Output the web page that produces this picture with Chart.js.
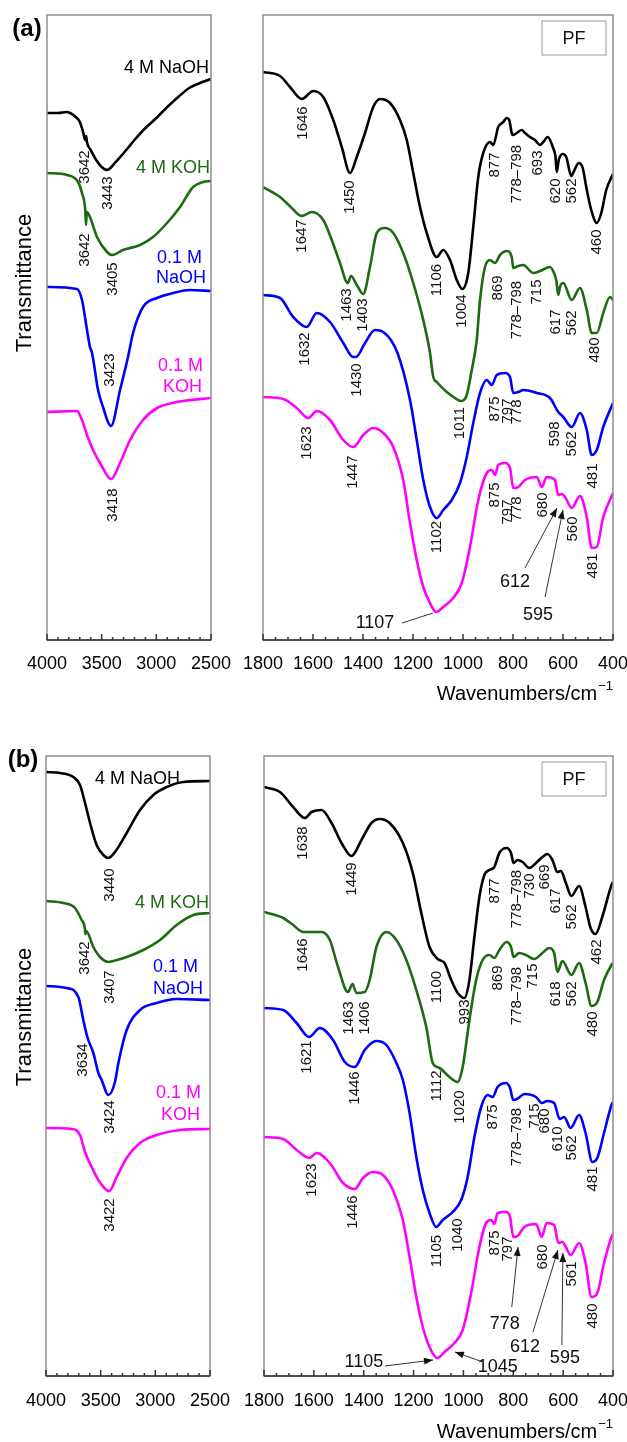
<!DOCTYPE html>
<html>
<head>
<meta charset="utf-8">
<script src="https://cdn.jsdelivr.net/npm/chart.js@4.4.0/dist/chart.umd.min.js"></script>
<style>
html, body { margin: 0; padding: 0; background: #fff; width: 627px; height: 1442px; overflow: hidden; position: relative; }
canvas { position: absolute; }
</style>
</head>
<body>
<canvas id="aLeft" width="250" height="720" style="left:0;top:0"></canvas>
<canvas id="aRight" width="425" height="720" style="left:228px;top:0"></canvas>
<canvas id="bLeft" width="250" height="716" style="left:0;top:740px"></canvas>
<canvas id="bRight" width="425" height="716" style="left:229px;top:740px"></canvas>
<script>
// series names / colours (same order in every plot)
const seriesNames = ['4 M NaOH', '4 M KOH', '0.1 M NaOH', '0.1 M KOH'];
const seriesColors = ['#000000', '#1c6a12', '#0000ff', '#ff00ff'];

// ---- panel (a), 4000-2500 cm-1 : [wavenumber, transmittance (a.u.)]
const aOH_NaOH4 = [[4000,527],[3900,527],[3820,528],[3760,525],[3700,518],[3670,508],[3650,500],[3642,504],[3635,498],[3600,490],[3550,480],[3500,473],[3450,470],[3420,472],[3380,477],[3330,483],[3260,492],[3200,500],[3100,512],[3000,522],[2900,533],[2800,543],[2700,552],[2600,557],[2500,561]];
const aOH_KOH4 = [[4000,467],[3817,465],[3716,458],[3680,447],[3650,430],[3643,415],[3636,428],[3607,423],[3543,403],[3451,388],[3405,385],[3305,390],[3149,395],[3030,403],[2902,417],[2783,433],[2664,453],[2573,458],[2500,459]];
const aOH_NaOH01 = [[4000,353],[3726,351],[3680,340],[3634,310],[3607,293],[3588,287],[3533,250],[3488,233],[3414,214],[3332,250],[3259,283],[3213,307],[3122,333],[2994,342],[2847,347],[2692,350],[2500,349]];
const aOH_KOH01 = [[4000,228],[3726,229],[3680,220],[3634,205],[3579,190],[3515,177],[3414,161],[3332,177],[3240,200],[3122,220],[2994,232],[2811,238],[2500,242]];

// ---- panel (a), 1800-400 cm-1
const aFP_NaOH4 = [[1800,568],[1732,564],[1692,553],[1645,541],[1599,549],[1559,543],[1519,520],[1485,493],[1452,467],[1425,483],[1392,507],[1359,533],[1332,541],[1292,537],[1252,520],[1225,500],[1199,467],[1172,433],[1145,407],[1105,383],[1079,390],[1052,380],[1025,360],[1003,351],[979,367],[959,413],[939,463],[919,487],[892,498],[879,495],[859,513],[839,518],[825,522],[815,520],[805,507],[799,505],[785,507],[765,510],[752,507],[732,503],[712,500],[692,495],[679,498],[661,503],[641,493],[630,483],[625,468],[617,480],[601,486],[587,483],[567,464],[554,470],[537,477],[521,472],[507,453],[487,430],[465,417],[447,427],[427,450],[400,466]];
const aFP_KOH4 = [[1800,453],[1732,443],[1685,432],[1645,424],[1605,428],[1559,420],[1525,400],[1492,377],[1461,357],[1448,364],[1425,355],[1399,346],[1372,373],[1345,407],[1312,412],[1279,407],[1239,387],[1199,357],[1159,320],[1132,287],[1119,263],[1105,258],[1065,248],[1032,242],[1009,239],[985,245],[965,270],[945,300],[932,340],[912,373],[892,380],[872,377],[852,385],[825,389],[805,383],[799,372],[779,374],[759,375],[719,367],[692,369],[652,373],[636,367],[627,360],[619,345],[611,354],[599,357],[565,340],[532,352],[505,330],[485,307],[465,307],[439,327],[412,343],[400,340]];
const aFP_NaOH01 = [[1800,345],[1732,342],[1679,323],[1625,313],[1585,327],[1532,318],[1479,297],[1439,283],[1428,283],[1392,297],[1352,310],[1319,308],[1262,287],[1212,240],[1185,200],[1159,160],[1132,133],[1105,122],[1079,130],[1045,140],[1012,157],[985,183],[959,217],[932,247],[905,260],[885,255],[865,265],[832,267],[812,263],[799,247],[779,248],[759,250],[705,247],[652,242],[619,228],[599,223],[565,213],[532,227],[505,210],[485,185],[465,190],[439,213],[400,237]];
const aFP_KOH01 = [[1800,243],[1719,241],[1665,232],[1619,222],[1585,229],[1532,220],[1479,200],[1439,193],[1399,205],[1359,212],[1319,207],[1279,193],[1239,160],[1212,117],[1185,80],[1159,53],[1132,37],[1108,28],[1079,33],[1039,42],[1005,57],[972,93],[939,140],[905,167],[885,170],[872,165],[859,175],[832,177],[812,172],[799,152],[779,153],[752,160],[705,163],[685,153],[665,163],[632,160],[619,145],[605,146],[592,143],[565,132],[532,144],[505,123],[485,92],[465,93],[439,123],[400,147]];

// ---- panel (b), 4000-2500 cm-1
const bOH_NaOH4 = [[4000,604],[3872,603],[3750,599],[3689,591],[3643,573],[3597,553],[3537,531],[3476,521],[3430,518],[3369,524],[3262,543],[3140,566],[3018,581],[2896,589],[2744,594],[2500,595]];
const bOH_KOH4 = [[4000,475],[3842,473],[3735,468],[3674,456],[3645,448],[3640,442],[3632,445],[3567,429],[3506,419],[3430,414],[3384,415],[3262,419],[3110,426],[2957,436],[2805,451],[2652,461],[2500,463]];
const bOH_NaOH01 = [[4000,390],[3811,388],[3704,379],[3659,356],[3622,339],[3567,323],[3521,303],[3491,296],[3430,281],[3369,294],[3338,313],[3262,346],[3140,366],[2988,373],[2805,377],[2500,376]];
const bOH_KOH01 = [[4000,248],[3765,247],[3689,241],[3643,224],[3582,209],[3521,196],[3421,185],[3354,199],[3262,218],[3140,233],[2988,241],[2774,246],[2500,247]];

// ---- panel (b), 1800-400 cm-1
const bFP_NaOH4 = [[1800,589],[1736,584],[1683,569],[1636,558],[1609,564],[1569,566],[1529,553],[1489,533],[1449,520],[1409,536],[1369,553],[1336,557],[1296,553],[1243,533],[1203,503],[1169,463],[1136,429],[1103,417],[1076,413],[1049,396],[1023,383],[996,378],[976,396],[956,439],[936,479],[916,501],[896,506],[876,509],[856,523],[827,528],[809,523],[799,513],[783,516],[763,514],[736,508],[709,513],[683,519],[663,522],[643,516],[623,504],[609,505],[589,493],[567,480],[536,490],[510,469],[490,448],[470,442],[443,459],[406,491],[400,494]];
const bFP_KOH4 = [[1800,464],[1723,458],[1683,451],[1643,444],[1569,444],[1536,436],[1503,409],[1463,384],[1445,392],[1429,383],[1396,384],[1376,396],[1349,429],[1309,444],[1269,436],[1229,416],[1189,386],[1149,349],[1123,313],[1096,308],[1056,299],[1023,294],[1003,309],[976,356],[949,396],[923,416],[896,421],[876,418],[856,426],[827,434],[809,429],[799,419],[776,423],[749,421],[716,417],[683,423],[656,428],[636,423],[623,404],[603,415],[567,401],[536,413],[510,393],[486,370],[463,374],[436,396],[406,411],[400,413]];
const bFP_NaOH01 = [[1800,368],[1723,366],[1669,353],[1619,339],[1576,348],[1523,336],[1476,314],[1436,309],[1396,326],[1349,335],[1309,331],[1269,313],[1243,296],[1216,263],[1189,219],[1163,186],[1136,163],[1109,149],[1083,156],[1043,164],[1009,176],[983,199],[956,239],[929,269],[903,281],[883,279],[863,289],[829,293],[813,288],[800,276],[779,278],[756,282],[709,279],[686,273],[663,275],[636,273],[614,257],[596,259],[570,248],[536,261],[510,243],[483,214],[463,218],[436,243],[406,271],[400,274]];
const bFP_KOH01 = [[1800,239],[1723,237],[1669,226],[1619,218],[1589,223],[1536,213],[1483,193],[1436,187],[1403,198],[1363,204],[1323,201],[1283,186],[1243,156],[1216,119],[1189,79],[1163,49],[1136,29],[1105,18],[1076,24],[1036,33],[1003,46],[969,83],[936,129],[909,153],[889,156],[876,152],[863,163],[829,164],[813,159],[800,139],[783,140],[756,149],[709,152],[686,139],[666,153],[636,151],[619,133],[603,134],[589,129],[570,121],[536,133],[510,113],[486,79],[463,83],[436,113],[406,139],[400,142]];

// peak labels: [text, wavenumber, level]
const aOH_peaks = [['3642',3652,473],['3443',3442,447],['3642',3652,390],['3405',3396,361],['3423',3424,270],['3418',3396,135]];
const aFP_peaks = [['1646',1640,517],['1450',1452,443],['1106',1104,360],['1004',1004,329],['877',872,475],['778–798',784,466],['693',700,477],['620',628,449],['562',564,449],['460',464,398],
  ['1647',1644,404],['1463',1464,335],['1403',1400,325],['869',860,352],['778–798',784,330],['715',704,348],['617',628,318],['562',564,317],['480',472,290],
  ['1632',1632,291],['1430',1424,260],['1011',1012,217],['875',872,231],['797',820,229],['778',784,228],['598',632,206],['562',564,196],['481',480,164],
  ['1623',1624,197],['1447',1440,168],['1102',1104,103],['875',872,145],['797',820,128],['778',784,131],['680',680,135],['560',560,111],['481',480,74]];
const bOH_peaks = [['3440',3414,491],['3642',3643,418],['3407',3414,389],['3634',3661,316],['3424',3414,259],['3422',3414,161]];
const bFP_peaks = [['1638',1644,533],['1449',1447,497],['1100',1106,389],['993',994,364],['877',874,485],['778–798',785,477],['730',733,490],['669',673,499],['617',629,475],['562',565,459],['462',465,424],
  ['1646',1644,421],['1463',1459,358],['1406',1395,358],['869',862,398],['778–798',785,380],['715',721,400],['618',629,382],['562',565,382],['480',481,352],
  ['1621',1628,319],['1446',1435,288],['1112',1106,290],['1020',1014,269],['875',882,259],['778–798',785,239],['715',713,260],['680',673,255],['610',621,237],['562',565,228],['481',481,197],
  ['1623',1608,196],['1446',1443,164],['1105',1106,125],['1040',1022,141],['875',874,133],['797',822,127],['680',681,119],['561',565,102],['480',481,60]];

// series name labels: [text, wavenumber (right edge), level, series index]
const aOH_names = [['4 M NaOH',2518,572,0],['4 M KOH',2509,472,1],['0.1 M',2582,382,2],['NaOH',2545,362,2],['0.1 M',2573,274,3],['KOH',2582,253,3]];
const bOH_names = [['4 M NaOH',2774,597,0],['4 M KOH',2509,473,1],['0.1 M',2609,409,2],['NaOH',2564,387,2],['0.1 M',2582,283,3],['KOH',2591,261,3]];

// pointer labels: [text, wn, level, fromWn, fromLevel, toWn, toLevel, arrowhead]
const aFP_arrows = [['612',792,58,752,72,624,132,true],['595',700,25,672,43,600,130,true],['1107',1352,17,1244,17,1120,27,false]];
const bFP_arrows = [['778',834,52,806,69,781,129,true],['612',753,29,721,44,621,126,true],['595',593,18,605,31,601,123,true],['1105',1399,14,1315,10,1122,16,true],['1045',862,9,922,14,1034,24,true]];

const FONT = '"Liberation Sans", Arial, Helvetica, sans-serif';

const spectraPlugin = {
  id: 'spectra',
  afterDraw(chart, args, o) {
    const ctx = chart.ctx, a = chart.chartArea;
    const x = chart.scales.x, y = chart.scales.y;
    ctx.save();
    // frame
    ctx.lineWidth = 1.5;
    ctx.strokeStyle = '#8e8e8e';
    ctx.strokeRect(a.left, a.top, a.right - a.left, a.bottom - a.top);
    // bottom axis with inward ticks
    ctx.strokeStyle = '#333';
    ctx.beginPath();
    ctx.moveTo(a.left, a.bottom);
    ctx.lineTo(a.right, a.bottom);
    x.ticks.forEach(t => {
      const px = x.getPixelForValue(t.value);
      const len = t.value % o.major === 0 ? 6 : 3;
      ctx.moveTo(px, a.bottom);
      ctx.lineTo(px, a.bottom - len);
    });
    ctx.stroke();

    ctx.textAlign = 'center';
    ctx.textBaseline = 'middle';
    // peak labels, rotated
    ctx.fillStyle = '#111';
    ctx.font = '15px ' + FONT;
    (o.peaks || []).forEach(p => {
      ctx.save();
      ctx.translate(x.getPixelForValue(p[1]), y.getPixelForValue(p[2]));
      ctx.rotate(-Math.PI / 2);
      ctx.fillText(p[0], 0, 0);
      ctx.restore();
    });
    // series names
    ctx.font = '18px ' + FONT;
    ctx.textAlign = 'right';
    (o.names || []).forEach(n => {
      ctx.fillStyle = seriesColors[n[3]];
      ctx.fillText(n[0], x.getPixelForValue(n[1]), y.getPixelForValue(n[2]));
    });
    // pointer labels
    ctx.textAlign = 'center';
    ctx.fillStyle = '#111';
    ctx.strokeStyle = '#333';
    ctx.lineWidth = 1;
    (o.arrows || []).forEach(r => {
      ctx.fillText(r[0], x.getPixelForValue(r[1]), y.getPixelForValue(r[2]));
      const x1 = x.getPixelForValue(r[3]), y1 = y.getPixelForValue(r[4]);
      const x2 = x.getPixelForValue(r[5]), y2 = y.getPixelForValue(r[6]);
      ctx.beginPath();
      ctx.moveTo(x1, y1);
      ctx.lineTo(x2, y2);
      ctx.stroke();
      if (r[7]) {
        const ang = Math.atan2(y2 - y1, x2 - x1), L = 9, W = 3.5;
        ctx.beginPath();
        ctx.moveTo(x2, y2);
        ctx.lineTo(x2 - L * Math.cos(ang) + W * Math.sin(ang), y2 - L * Math.sin(ang) - W * Math.cos(ang));
        ctx.lineTo(x2 - L * Math.cos(ang) - W * Math.sin(ang), y2 - L * Math.sin(ang) + W * Math.cos(ang));
        ctx.closePath();
        ctx.fill();
      }
    });
    // PF box
    if (o.box) {
      ctx.strokeStyle = '#a8a8a8';
      ctx.lineWidth = 1.2;
      ctx.strokeRect(a.right - 71, a.top + 6, 64, 34);
      ctx.fillStyle = '#111';
      ctx.font = '18px ' + FONT;
      ctx.fillText(o.box, a.right - 39, a.top + 24);
    }
    // x title, right aligned, with superscript
    if (o.xtitle) {
      ctx.fillStyle = '#000';
      ctx.font = '13px ' + FONT;
      const sw = ctx.measureText(o.xsup).width;
      ctx.textAlign = 'left';
      ctx.fillText(o.xsup, a.right - sw, a.bottom + o.xtitle[1] - 8);
      ctx.font = '20px ' + FONT;
      ctx.textAlign = 'right';
      ctx.fillText(o.xtitle[0], a.right - sw - 1, a.bottom + o.xtitle[1]);
    }
    // panel letter and y title
    if (o.panel) {
      ctx.textAlign = 'center';
      ctx.fillStyle = '#000';
      ctx.font = 'bold 24px ' + FONT;
      ctx.fillText(o.panel[0], o.panel[1], o.panel[2]);
      ctx.font = '22px ' + FONT;
      ctx.save();
      ctx.translate(o.ytitle[0], o.ytitle[1]);
      ctx.rotate(-Math.PI / 2);
      ctx.fillText('Transmittance', 0, 0);
      ctx.restore();
    }
    ctx.restore();
  }
};

function makeChart(id, series, s) {
  const ctx = document.getElementById(id).getContext('2d');
  return new Chart(ctx, {
    type: 'line',
    data: {
      datasets: series.map((d, i) => ({
        label: seriesNames[i],
        data: d.map(p => ({ x: p[0], y: p[1] })),
        borderColor: seriesColors[i],
        borderWidth: 2.6,
        pointRadius: 0,
        fill: false,
        cubicInterpolationMode: 'monotone'
      }))
    },
    options: {
      responsive: false,
      animation: false,
      events: [],
      layout: { padding: { left: s.padL, right: s.padR, top: s.padT, bottom: 0 } },
      plugins: {
        legend: { display: false },
        tooltip: { enabled: false },
        spectra: s.extra
      },
      scales: {
        x: {
          type: 'linear',
          reverse: true,
          min: s.min,
          max: s.max,
          border: { display: false },
          grid: { display: false, drawTicks: false },
          ticks: {
            stepSize: s.step,
            autoSkip: false,
            maxRotation: 0,
            padding: s.tickPad,
            color: '#000',
            font: { family: FONT, size: 18 },
            callback: v => (v % s.extra.major === 0 ? String(v) : '')
          },
          afterFit: sc => { sc.height = 80; }
        },
        y: { display: false, min: 0, max: s.ymax }
      }
    },
    plugins: [spectraPlugin]
  });
}

makeChart('aLeft', [aOH_NaOH4, aOH_KOH4, aOH_NaOH01, aOH_KOH01], {
  padL: 47, padR: 39, padT: 15, min: 2500, max: 4000, step: 100, ymax: 625, tickPad: 13,
  extra: { major: 500, peaks: aOH_peaks, names: aOH_names, panel: ['(a)', 27, 29], ytitle: [25, 283] }
});
makeChart('aRight', [aFP_NaOH4, aFP_KOH4, aFP_NaOH01, aFP_KOH01], {
  padL: 35, padR: 40, padT: 15, min: 400, max: 1800, step: 50, ymax: 625, tickPad: 13,
  extra: { major: 200, peaks: aFP_peaks, arrows: aFP_arrows, box: 'PF', xtitle: ['Wavenumbers/cm', 54], xsup: '−1' }
});
makeChart('bLeft', [bOH_NaOH4, bOH_KOH4, bOH_NaOH01, bOH_KOH01], {
  padL: 46, padR: 40, padT: 16, min: 2500, max: 4000, step: 100, ymax: 620, tickPad: 14,
  extra: { major: 500, peaks: bOH_peaks, names: bOH_names, panel: ['(b)', 23, 20], ytitle: [25, 277] }
});
makeChart('bRight', [bFP_NaOH4, bFP_KOH4, bFP_NaOH01, bFP_KOH01], {
  padL: 35, padR: 41, padT: 16, min: 400, max: 1800, step: 50, ymax: 620, tickPad: 14,
  extra: { major: 200, peaks: bFP_peaks, arrows: bFP_arrows, box: 'PF', xtitle: ['Wavenumbers/cm', 56], xsup: '−1' }
});
</script>
</body>
</html>
